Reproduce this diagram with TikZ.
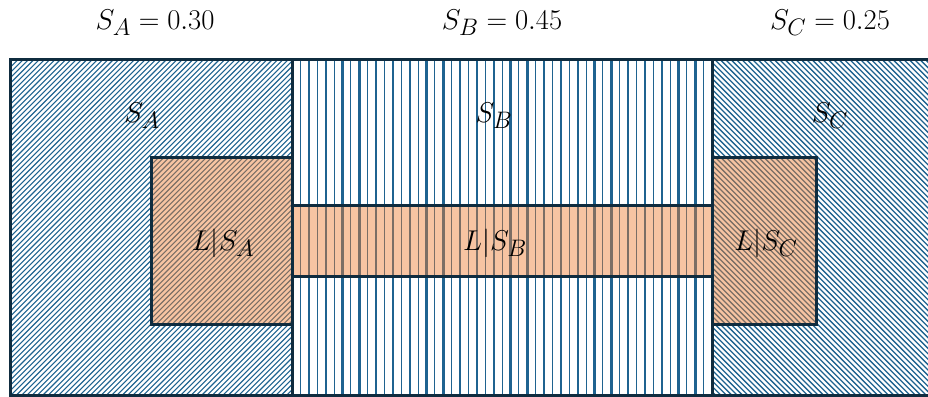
\documentclass[tikz,border=0pt]{standalone}
\usepackage{graphicx}
\usetikzlibrary{positioning}
\definecolor{hatchblue}{HTML}{1F6390}
\definecolor{edgenavy}{HTML}{0F2C3F}
\definecolor{overorange}{HTML}{ED7D31}
\newcommand{\lbltext}[1]{\scalebox{1.15}{$#1$}}

\begin{document}
\begin{tikzpicture}[x=1pt, y=-1pt,
		lbl/.style={font=\fontsize{24.88}{30}\selectfont, inner sep=0pt},
		hatch/.style={hatchblue, line width=1.1pt},
		edge/.style={draw=edgenavy, line width=3pt},
		overlay/.style={fill=overorange, fill opacity=0.45}
	]
	\useasboundingbox (0,0) rectangle (928,396);

	% Region S_A
	\begin{scope}
		\clip (10,60) rectangle (292,395);
		\foreach \k in {0,...,118}
			\draw[hatch] ({-330+5.3*\k},397) -- ++(340,-340);
	\end{scope}

	% Region S_B
	\begin{scope}
		\clip (292,60) rectangle (712,395);
		\foreach \k in {0,...,24} {
			\draw[hatch, line width=0.9pt] ({300.5+16.8*\k},58) -- ++(0,340);
			\draw[hatch, line width=2.3pt] ({309+16.8*\k},58) -- ++(0,340);
		}
	\end{scope}

	% Region S_C
	\begin{scope}
		\clip (712,60) rectangle (940,395);
		\foreach \k in {0,...,106}
			\draw[hatch, line width=1.3pt] ({712+5.4*\k},397) -- ++(-340,-340);
	\end{scope}

	% Overlays L|S
	\path[overlay] (151,157) rectangle (292,324);
	\path[overlay] (292,205) rectangle (712,276);
	\path[overlay] (712,157) rectangle (816,324);

	% Borders
	\draw[edge] (940,60) -- (10,60) -- (10,395) -- (940,395);
	\draw[edge] (292,60) -- (292,395);
	\draw[edge] (712,60) -- (712,395);
	\draw[edge] (292,157) -- (151,157) -- (151,324) -- (292,324);
	\draw[edge] (292,205) -- (712,205);
	\draw[edge] (292,276) -- (712,276);
	\draw[edge] (712,157) -- (816,157) -- (816,324) -- (712,324);

	% Labels
	\node[lbl] (pa) at (155,23) {\lbltext{S_A = 0.30}};
	\node[lbl] (pb) at (502,23) {\lbltext{S_B = 0.45}};
	\node[lbl] (pc) at (830,23) {\lbltext{S_C = 0.25}};
	\node[lbl] (sa) at (142,116) {\lbltext{S_A}};
	\node[lbl] (sb) at (494,116) {\lbltext{S_B}};
	\node[lbl] (sc) at (830,116) {\lbltext{S_C}};
	\node[lbl] (la) at (223,243) {\lbltext{L|S_A}};
	\node[lbl] (lb) at (495,243) {\lbltext{L|S_B}};
	\node[lbl] (lc) at (766,243) {\lbltext{L|S_C}};
\end{tikzpicture}
\end{document}
